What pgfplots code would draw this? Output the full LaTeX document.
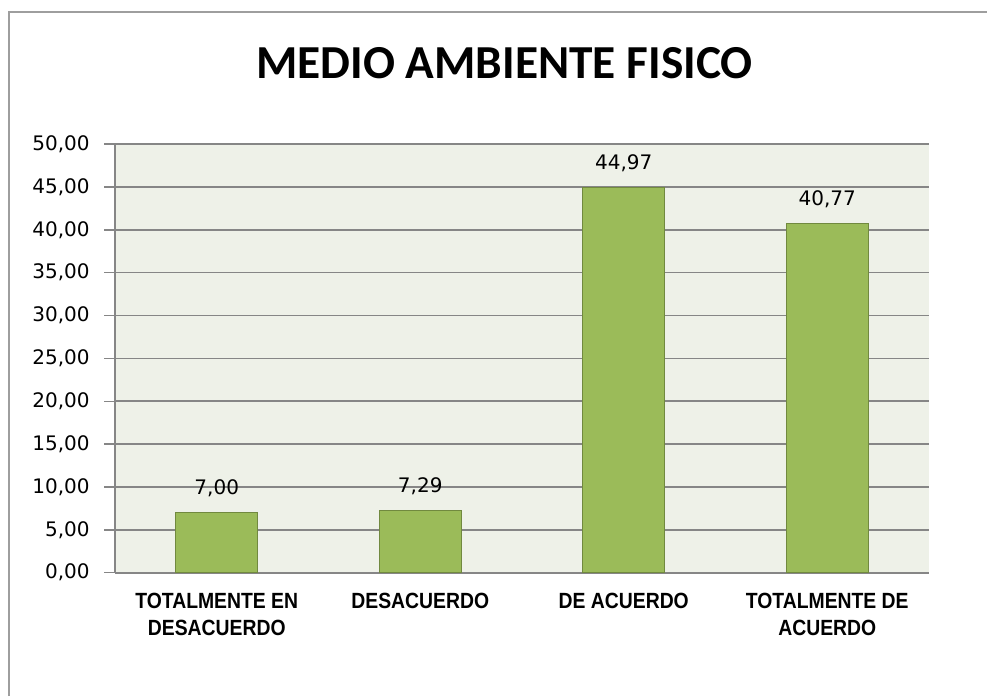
\documentclass[border=0pt]{standalone}
\usepackage{fontspec}
\usepackage{pgfplots}
\pgfplotsset{compat=1.18}
\newfontfamily\titlefont{Carlito}
\newfontfamily\numfont{DejaVu Sans}
\newfontfamily\catfont[FakeStretch=0.88]{Liberation Sans}

\definecolor{barfill}{RGB}{155,187,89}
\definecolor{baredge}{RGB}{113,137,63}
\definecolor{plotbg}{RGB}{238,241,232}
\definecolor{gridgray}{RGB}{134,134,134}

\begin{document}
\begin{tikzpicture}[x=0.75pt,y=0.75pt]
  \useasboundingbox (0,0) rectangle (987,696);
  % chart area border (left and top edges visible)
  \draw[gridgray!80, line width=1.5pt] (9,0) -- (9,684) -- (987,684);
  \node[anchor=base, font=\titlefont\bfseries\fontsize{35.5}{40}\selectfont]
    at (504.5,617) {MEDIO AMBIENTE FISICO};
  \begin{axis}[
    at={(86.25pt,92.475pt)}, anchor=south west,
    scale only axis,
    width=610.5pt, height=321.5pt,
    ybar, bar width=61.5pt,
    xmin=-0.5, xmax=3.5,
    ymin=0, ymax=50,
    ytick={0,5,...,50},
    xtick={0,1,2,3},
    xticklabels={{TOTALMENTE EN\\DESACUERDO},DESACUERDO,DE ACUERDO,{TOTALMENTE DE\\ACUERDO}},
    minor xtick={-0.5,0.5,1.5,2.5,3.5},
    xtick style={draw=none},
    minor x tick style={gridgray, line width=1.1pt},
    ytick style={gridgray, line width=1.1pt},
    tick align=outside,
    major tick length=8pt,
    minor tick length=4.5pt,
    axis x line*=bottom,
    axis y line*=left,
    axis line style={gridgray, line width=1.1pt},
    axis background/.style={fill=plotbg},
    ymajorgrids,
    grid style={gridgray, line width=1.2pt},
    yticklabel style={font=\numfont\fontsize{15}{18}\selectfont, text=black,
                      xshift=-7.5pt},
    xticklabel style={font=\catfont\bfseries\fontsize{16.5}{20}\selectfont,
                      align=center, text=black, yshift=-4pt},
    nodes near coords,
    nodes near coords style={font=\numfont\fontsize{15}{18}\selectfont,
                             anchor=base, inner sep=0pt, yshift=13.5pt},
    /pgf/number format/.cd, fixed, fixed zerofill, precision=2, use comma,
    assume math mode=true,
  ]
    \addplot[fill=barfill, draw=baredge, line width=0.9pt]
      coordinates {(0,7.00) (1,7.29) (2,44.97) (3,40.77)};
  \end{axis}
\end{tikzpicture}
\end{document}
